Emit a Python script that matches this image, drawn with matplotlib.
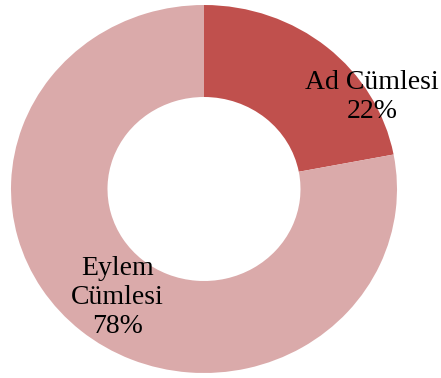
import matplotlib
matplotlib.use("Agg")
import matplotlib.pyplot as plt

categories = ["Ad Cümlesi", "Eylem\nCümlesi"]
values = [22, 78]
colors = ["#C0504D", "#DAAAAA"]

W, H = 441, 378
fig = plt.figure(figsize=(W / 100, H / 100), dpi=100)
cx, cy, rx, ry = 204, 189, 193, 184
ax = fig.add_axes([(cx - rx) / W, (H - cy - ry) / H, 2 * rx / W, 2 * ry / H])

ax.pie(values, colors=colors, startangle=90, counterclock=False,
       radius=1.0, wedgeprops=dict(width=0.5, linewidth=0))
ax.set_aspect('auto')
ax.set_xlim(-1, 1)
ax.set_ylim(-1, 1)
ax.axis('off')

label_pos = [(0.87, 0.50), (-0.45, -0.59)]
for (x, y), cat, v in zip(label_pos, categories, values):
    ax.text(x, y, f"{cat}\n{v}%", ha='center', va='center',
            fontsize=20, family='Liberation Serif', color='black',
            linespacing=1.2)

fig.savefig("out.png", dpi=100)
